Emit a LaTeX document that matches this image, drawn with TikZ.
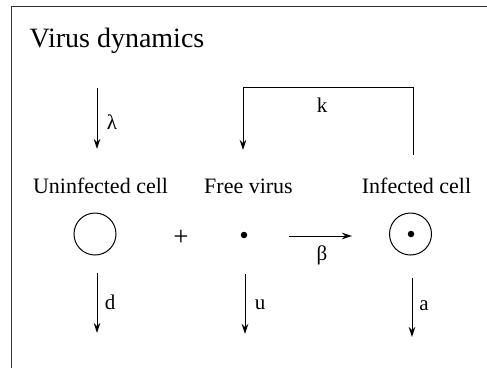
\documentclass[tikz,border=0pt]{standalone}
\usepackage{fontspec}
\setmainfont{Liberation Serif}
\usetikzlibrary{arrows.meta}
\begin{document}
\begin{tikzpicture}[x=1pt,y=-1pt,
  line width=1pt,
  flow/.style={-{Stealth[length=10pt,width=6.5pt]}},
  lbl/.style={font=\fontsize{22}{24}\selectfont, inner sep=0pt},
  sym/.style={font=\fontsize{21}{23}\selectfont, inner sep=0pt},
  cell/.style={circle, draw, line width=1pt, minimum size=42pt, inner sep=0pt},
  virus/.style={circle, fill=black, minimum size=6.5pt, inner sep=0pt}]
\useasboundingbox (0,0) rectangle (487,368);
% frame
\draw[line width=1.2pt, black!80] (11.7,368) -- (11.7,6.5) -- (487,6.5);
% title
\node[anchor=base west, inner sep=0pt, font=\fontsize{28}{30}\selectfont] (title) at (29,47) {Virus dynamics};
% labels
\node[lbl, anchor=base] (uninf) at (100.5,193) {Uninfected cell};
\node[lbl, anchor=base] (freev) at (248.5,193) {Free virus};
\node[lbl, anchor=base] (inf) at (416.5,193) {Infected cell};
% cells
\node[cell] (ucell) at (95,234) {};
\node[virus] (vdot) at (244,235) {};
\node[cell] (icell) at (410.5,234) {};
\node[virus] (idot) at (411,234) {};
\node[inner sep=0pt, font=\fontsize{27}{29}\selectfont] (plus) at (181,238) {+};
% infection arrow
\coordinate (b1) at (289,236);
\coordinate (b2) at (352,236);
\draw[flow] (b1) -- (b2);
\node[sym] (beta) at (322,255) {β};
% production lambda
\coordinate (l1) at (97,88);
\coordinate (l2) at (97,149);
\draw[flow] (l1) -- (l2);
\node[sym] (lam) at (112,122) {λ};
% feedback k
\coordinate (k1) at (413,155);
\coordinate (k2) at (413,87);
\coordinate (k3) at (243,87);
\coordinate (k4) at (243,150);
\draw[flow] (k1) -- (k2) -- (k3) -- (k4);
\node[sym] (k) at (322,105) {k};
% decay arrows
\coordinate (d1) at (97,273);
\coordinate (d2) at (97,333);
\draw[flow] (d1) -- (d2);
\node[sym] (d) at (110,302) {d};
\coordinate (u1) at (245,274);
\coordinate (u2) at (245,334);
\draw[flow] (u1) -- (u2);
\node[sym] (u) at (260,305) {u};
\coordinate (a1) at (412,278);
\coordinate (a2) at (412,337);
\draw[flow] (a1) -- (a2);
\node[sym] (a) at (424,306) {a};
\end{tikzpicture}
\end{document}
